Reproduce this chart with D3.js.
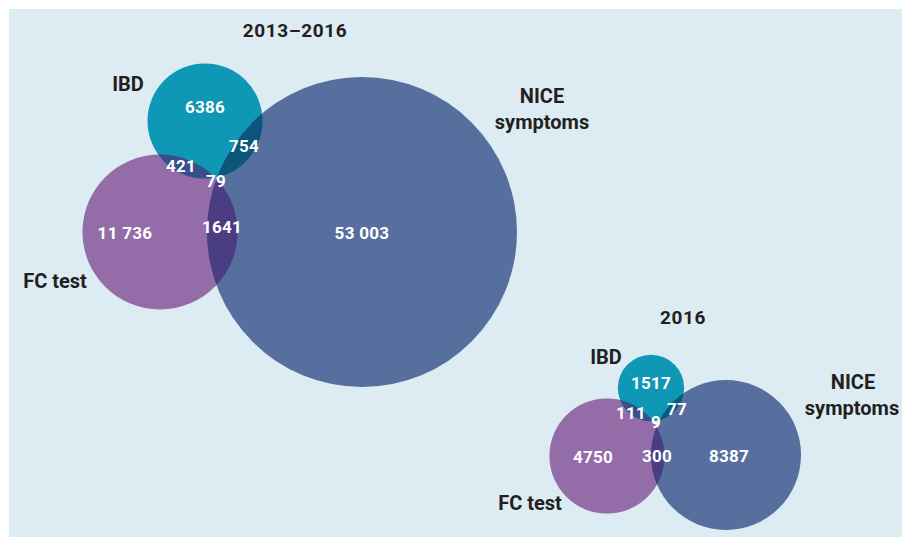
<!DOCTYPE html>
<html>
<head>
<meta charset="utf-8">
<script src="https://cdn.jsdelivr.net/npm/d3@7"></script>
<style>
  body { margin: 0; background: #fff; }
  text { font-family: Roboto, "Open Sans", sans-serif; font-weight: 700; }
</style>
</head>
<body>
<div id="chart"></div>
<script>
// Venn diagrams: IBD, NICE symptoms, FC test, for 2013–2016 and for 2016

var setNames = ['IBD', 'NICE', 'FC'];
var periods = ['2013–2016', '2016'];

// region counts per period: only-IBD, only-NICE, only-FC, IBD&NICE, IBD&FC, NICE&FC, all three
var onlyIBD = [6386, 1517];
var onlyNICE = [53003, 8387];
var onlyFC = [11736, 4750];
var ibdNice = [754, 77];
var ibdFc = [421, 111];
var niceFc = [1641, 300];
var allThree = [79, 9];

var regionLabels = [
  ['6386', '53 003', '11 736', '754', '421', '1641', '79'],
  ['1517', '8387', '4750', '77', '111', '300', '9']
];

var width = 909;
var height = 538;

var colors = {
  IBD: '#0e98b5', NICE: '#566f9f', FC: '#936ca8',
  IBD_NICE: '#0a577a', IBD_FC: '#384f8b', NICE_FC: '#4a3d82', ALL: '#463a80'
};

// layout of each diagram (centers in px, one radius scale per diagram)
var layout = [
  { centers: { IBD: [205, 121], NICE: [362, 232], FC: [160, 232] }, rMax: 155,
    title: [295, 37], setLabels: { IBD: [[128, 91, 'IBD']], NICE: [[542, 103, 'NICE'], [542, 129, 'symptoms']], FC: [[55, 288, 'FC test']] },
    spots: [[205, 113], [362, 239], [125, 239], [244, 152], [181, 172], [222, 233], [216, 187]] },
  { centers: { IBD: [651, 388], NICE: [726, 455], FC: [607, 456] }, rMax: 75,
    title: [683, 324], setLabels: { IBD: [[606, 364, 'IBD']], NICE: [[853, 389, 'NICE'], [852, 415, 'symptoms']], FC: [[530, 510, 'FC test']] },
    spots: [[651, 389], [729, 462], [593, 463], [677, 415], [631, 419], [657, 462], [656, 428]] }
];

function totals(i) {
  return {
    IBD: onlyIBD[i] + ibdNice[i] + ibdFc[i] + allThree[i],
    NICE: onlyNICE[i] + ibdNice[i] + niceFc[i] + allThree[i],
    FC: onlyFC[i] + ibdFc[i] + niceFc[i] + allThree[i]
  };
}

var svg = d3.select('#chart').append('svg')
  .attr('width', width)
  .attr('height', height);

svg.append('rect')
  .attr('x', 9).attr('y', 9)
  .attr('width', 893).attr('height', 528)
  .attr('fill', '#ddebf3');

var defs = svg.append('defs');

periods.forEach(function(period, i) {
  var lay = layout[i];
  var tot = totals(i);
  var rScale = d3.scaleSqrt()
    .domain([0, tot.NICE])
    .range([0, lay.rMax]);

  var circles = setNames.map(function(s) {
    return { name: s, cx: lay.centers[s][0], cy: lay.centers[s][1], r: rScale(tot[s]) };
  });
  var byName = {};
  circles.forEach(function(c) { byName[c.name] = c; });

  // clip paths for each set
  circles.forEach(function(c) {
    defs.append('clipPath').attr('id', 'clip-' + c.name + i)
      .append('circle').attr('cx', c.cx).attr('cy', c.cy).attr('r', c.r);
  });

  var g = svg.append('g');

  // base circles
  g.selectAll('circle.base')
    .data([byName.FC, byName.NICE, byName.IBD])
    .enter().append('circle')
      .attr('class', 'base')
      .attr('cx', d => d.cx)
      .attr('cy', d => d.cy)
      .attr('r', d => d.r)
      .attr('fill', d => colors[d.name]);

  // pairwise overlaps: draw second circle clipped by first
  var pairs = [['IBD', 'NICE', colors.IBD_NICE], ['IBD', 'FC', colors.IBD_FC], ['NICE', 'FC', colors.NICE_FC]];
  pairs.forEach(function(p) {
    var b = byName[p[1]];
    g.append('g').attr('clip-path', 'url(#clip-' + p[0] + i + ')')
      .append('circle')
      .attr('cx', b.cx).attr('cy', b.cy).attr('r', b.r)
      .attr('fill', p[2]);
  });

  // triple overlap
  g.append('g').attr('clip-path', 'url(#clip-IBD' + i + ')')
    .append('g').attr('clip-path', 'url(#clip-NICE' + i + ')')
    .append('circle')
      .attr('cx', byName.FC.cx).attr('cy', byName.FC.cy).attr('r', byName.FC.r)
      .attr('fill', colors.ALL);

  // region numbers
  g.selectAll('text.num')
    .data(regionLabels[i])
    .enter().append('text')
      .attr('class', 'num')
      .attr('x', (d, j) => lay.spots[j][0])
      .attr('y', (d, j) => lay.spots[j][1])
      .attr('text-anchor', 'middle')
      .attr('fill', '#fff')
      .style('font-size', '17px')
      .style('letter-spacing', '0.3px')
      .text(d => d);

  // title
  g.append('text')
    .attr('x', lay.title[0])
    .attr('y', lay.title[1])
    .attr('text-anchor', 'middle')
    .attr('fill', '#231f20')
    .style('font-size', '19px')
    .style('letter-spacing', '0.6px')
    .text(period);

  // set labels
  setNames.forEach(function(s) {
    lay.setLabels[s].forEach(function(l) {
      g.append('text')
        .attr('x', l[0])
        .attr('y', l[1])
        .attr('text-anchor', 'middle')
        .attr('fill', '#231f20')
        .style('font-size', '20px')
        .text(l[2]);
    });
  });
});
</script>
</body>
</html>
